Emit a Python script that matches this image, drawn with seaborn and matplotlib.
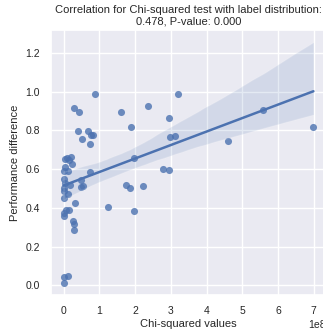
import numpy as np
import pandas as pd
import seaborn as sns
import matplotlib
matplotlib.use("Agg")
import matplotlib.pyplot as plt

# Chi-squared values (in units of 1e8) and performance differences
chi_squared_e8 = [
    0.04, 0.10, 0.22, 0.16, 0.25, 0.02, 0.13, 0.03, 0.18, 0.02,
    0.02, 0.13, 0.00, 0.32, 0.07, 0.14, 0.00, 0.01, 0.27, 0.30,
    0.29, 0.01, 0.13, 0.01, 0.50, 0.55, 0.50, 0.73, 0.29, 0.44,
    0.88, 0.40, 0.69, 0.78, 0.82, 0.74, 0.52, 1.61, 1.89, 2.35,
    2.94, 3.20, 2.98, 3.11, 1.75, 1.86, 2.23, 2.79, 2.94, 1.97,
    1.25, 1.97, 5.57, 6.99, 4.60, 0.02, 0.05,
]
performance_diff = [
    0.650, 0.655, 0.665, 0.645, 0.625, 0.590, 0.590, 0.530, 0.517, 0.503,
    0.486, 0.469, 0.452, 0.424, 0.390, 0.388, 0.375, 0.357, 0.331, 0.314,
    0.284, 0.040, 0.050, 0.012, 0.543, 0.515, 0.505, 0.584, 0.918, 0.895,
    0.986, 0.795, 0.795, 0.775, 0.775, 0.730, 0.753, 0.895, 0.816, 0.928,
    0.864, 0.986, 0.764, 0.773, 0.517, 0.503, 0.515, 0.603, 0.594, 0.655,
    0.404, 0.383, 0.906, 0.816, 0.744, 0.550, 0.610,
]

title_text = "Correlation for Chi-squared test with label distribution:\n0.478, P-value: 0.000"
x_label = "Chi-squared values"
y_label = "Performance difference"

df = pd.DataFrame({
    "chi": np.array(chi_squared_e8) * 1e8,
    "perf": performance_diff,
})

sns.set_theme(style="darkgrid")
plt.rcParams["font.family"] = ["Liberation Sans", "DejaVu Sans"]

fig = plt.figure(figsize=(3.23, 3.31), dpi=100)
ax = fig.add_axes([0.158, 0.109, 0.851, 0.8])

sns.regplot(data=df, x="chi", y="perf", ax=ax, seed=0,
            scatter_kws={"s": 26, "linewidths": 0},
            line_kws={"linewidth": 1.8})

ax.set_title(title_text, fontsize=8, pad=4)
ax.set_xlabel(x_label, fontsize=8, labelpad=2)
ax.set_ylabel(y_label, fontsize=8, labelpad=4)
ax.tick_params(labelsize=7.5, pad=2)
ax.xaxis.get_offset_text().set_fontsize(7.5)

fig.savefig("out.png", dpi=100)
